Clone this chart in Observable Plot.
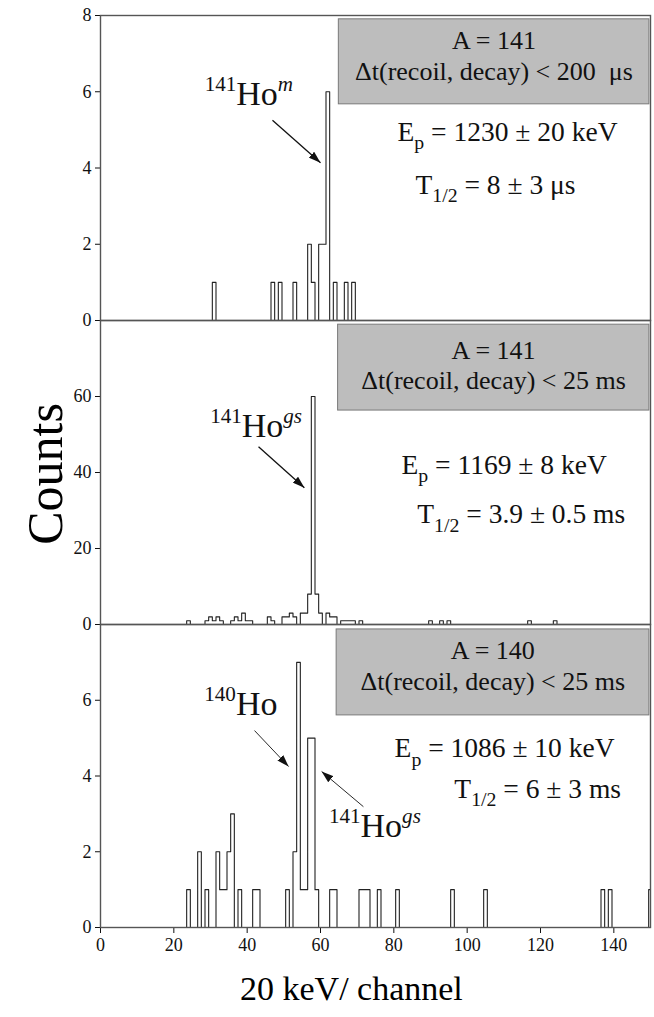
<!DOCTYPE html>
<html><head><meta charset="utf-8">
<script src="https://cdn.jsdelivr.net/npm/d3@7"></script>
<script src="https://cdn.jsdelivr.net/npm/@observablehq/plot@0.6"></script>
<style>
body{margin:0;background:#fff;}
#wrap{position:relative;width:654px;height:1017px;font-family:"Liberation Serif","Times New Roman",serif;overflow:hidden;}
#wrap svg{position:absolute;left:0;}
#wrap svg, #wrap svg text{font-family:"Liberation Serif","Times New Roman",serif !important;}
#ylab{position:absolute;left:45px;top:474px;transform:translate(-50%,-50%) rotate(-90deg);font-size:50px;white-space:nowrap;line-height:1;}
#xlab{position:absolute;left:240px;top:972px;font-size:34px;white-space:nowrap;line-height:1;}
</style></head><body><div id="wrap"><div id="ylab">Counts</div><div id="xlab">20 keV/ channel</div></div>
<script>
// ---- data (channel = 20 keV bin, counts per bin) ----
const channelMax = 150;
const xTicks = [0, 20, 40, 60, 80, 100, 120, 140];

// Panel 1: A = 141, dt < 200 us
const p1Channels = [31, 47, 49, 53, 57, 58, 60, 61, 62, 64, 67, 69];
const p1Counts   = [1, 1, 1, 1, 2, 1, 2, 2, 6, 1, 1, 1];
const p1Ticks = [0, 2, 4, 6, 8];

// Panel 2: A = 141, dt < 25 ms
const p2Channels = [24, 29, 30, 31, 32, 33, 36, 37, 38, 39, 40, 41, 46, 47, 50, 51, 52, 53, 55, 56, 57, 58, 59, 60, 62, 63, 64, 66, 67, 68, 69, 71, 90, 93, 95, 117, 124];
const p2Counts   = [1, 1, 2, 1, 2, 1, 1, 2, 1, 3, 1, 1, 2, 1, 2, 2, 3, 2, 3, 3, 8, 60, 8, 3, 3, 2, 2, 1, 1, 1, 1, 1, 1, 1, 1, 1, 1];
const p2Ticks = [0, 20, 40, 60];

// Panel 3: A = 140, dt < 25 ms
const p3Channels = [24, 27, 29, 32, 33, 34, 35, 36, 38, 42, 43, 51, 53, 54, 55, 56, 57, 58, 59, 63, 64, 71, 72, 73, 76, 81, 96, 105, 137, 139, 150];
const p3Counts   = [1, 2, 1, 2, 1, 1, 2, 3, 1, 1, 1, 1, 2, 7, 1, 1, 5, 5, 1, 1, 1, 1, 1, 1, 1, 1, 1, 1, 1, 1, 1];
const p3Ticks = [0, 2, 4, 6];

// Annotation texts (markup: ^{sup} _{sub} ~{italic sup})
const p1Box = ["A = 141", "\u0394t(recoil, decay) < 200\u00a0 \u03bcs"];
const p2Box = ["A = 141", "\u0394t(recoil, decay) < 25 ms"];
const p3Box = ["A = 140", "\u0394t(recoil, decay) < 25 ms"];
const p1Lines = ["E_{p} = 1230 \u00b1 20 keV", "T_{1/2} = 8 \u00b1 3 \u03bcs"];
const p2Lines = ["E_{p} = 1169 \u00b1 8 keV", "T_{1/2} = 3.9 \u00b1 0.5 ms"];
const p3Lines = ["E_{p} = 1086 \u00b1 10 keV", "T_{1/2} = 6 \u00b1 3 ms"];
const p1Labels = ["^{141}Ho~{m}"];
const p2Labels = ["^{141}Ho~{gs}"];
const p3Labels = ["^{140}Ho", "^{141}Ho~{gs}"];

// annotation anchor positions, in data units (channel, counts)
const p1BoxPos = {x1: 65, x2: 149.7, y1: 5.67, y2: 7.9, cx: 107.3, lines: [7.13, 6.32]};
const p2BoxPos = {x1: 64.8, x2: 149.7, y1: 56.3, y2: 78.9, cx: 107.2, lines: [70, 62.1]};
const p3BoxPos = {x1: 64.4, x2: 149.7, y1: 5.6, y2: 7.87, cx: 107, lines: [7.08, 6.28]};
const p1LinePos = [[81, 4.72], [85.9, 3.33]];
const p2LinePos = [[82.1, 39.7], [86.4, 26.6]];
const p3LinePos = [[80.2, 4.49], [96.5, 3.43]];
const p1LabelPos = [[28.4, 5.64]];
const p2LabelPos = [[29.9, 49.3]];
const p3LabelPos = [[28.3, 5.6], [62.3, 2.38]];
const p1Arrows = [[46.9, 5.25, 60, 4.14, 1.3]];
const p2Arrows = [[43.1, 46.8, 55.6, 36, 1.3]];
const p3Arrows = [[42, 5.2, 51.3, 4.25, 0.9], [71.7, 3.19, 60.3, 4.12, 0.9]];

// ---- helpers ----
function steps(channels, counts) {
  const m = new Map(channels.map((c, i) => [c, counts[i]]));
  const pts = [];
  for (let c = 0; c <= channelMax; c++) pts.push({x: c - 0.5, y: m.get(c) ?? 0});
  pts.push({x: channelMax + 0.5, y: m.get(channelMax) ?? 0});
  return pts;
}

const NS = "http://www.w3.org/2000/svg";
function richify(svg) {
  svg.querySelectorAll("text").forEach(el => {
    const t = el.textContent;
    if (!/[_^~]\{/.test(t)) return;
    const g = el.closest("g[font-size]");
    const fs = parseFloat(el.getAttribute("font-size") || (g && g.getAttribute("font-size")) || 16);
    const parts = [];
    const re = /([_^~])\{([^}]*)\}/g;
    let last = 0, m;
    while ((m = re.exec(t))) {
      if (m.index > last) parts.push({s: t.slice(last, m.index), mode: ""});
      parts.push({s: m[2], mode: m[1]});
      last = re.lastIndex;
    }
    if (last < t.length) parts.push({s: t.slice(last), mode: ""});
    while (el.firstChild) el.removeChild(el.firstChild);
    let shift = 0;
    for (const p of parts) {
      const ts = document.createElementNS(NS, "tspan");
      ts.textContent = p.s;
      let target = 0;
      if (p.mode === "^" || p.mode === "~") { ts.setAttribute("font-size", fs * 0.62); target = -fs * 0.42; }
      if (p.mode === "_") { ts.setAttribute("font-size", fs * 0.72); target = fs * 0.3; }
      if (p.mode === "~") ts.setAttribute("font-style", "italic");
      if (target !== shift) { ts.setAttribute("dy", target - shift); shift = target; }
      el.appendChild(ts);
    }
  });
  const defs = document.createElementNS(NS, "defs");
  defs.innerHTML = '<marker id="ah' + svg.__id + '" viewBox="0 0 12 8" refX="12" refY="4" markerWidth="12" markerHeight="8" markerUnits="userSpaceOnUse" orient="auto"><path d="M0,0L12,4L0,8z" fill="#111"/></marker>';
  svg.insertBefore(defs, svg.firstChild);
  svg.querySelectorAll("g.annarrow path, g.annarrow line").forEach(p => p.setAttribute("marker-end", "url(#ah" + svg.__id + ")"));
}

const FONT = '"Liberation Serif", serif';
function panel(id, o) {
  const series = steps(o.channels, o.counts);
  const boxText = o.box.map((s, i) => ({s, x: o.boxPos.cx, y: o.boxPos.lines[i]}));
  const lineText = o.lines.map((s, i) => ({s, x: o.linePos[i][0], y: o.linePos[i][1]}));
  const labelText = o.labels.map((s, i) => ({s, x: o.labelPos[i][0], y: o.labelPos[i][1]}));
  const arrows = o.arrows.map(a => ({x1: a[0], y1: a[1], x2: a[2], y2: a[3], w: a[4]}));
  const chart = Plot.plot({
    width: 654,
    height: o.height,
    marginLeft: 100,
    marginRight: 4,
    marginTop: o.mt,
    marginBottom: o.mb,
    style: {fontFamily: FONT, fontSize: "18px", color: "#111", background: "transparent", overflow: "visible"},
    x: {domain: [0, channelMax], ticks: o.showX ? xTicks : [], tickSize: o.showX ? 6 : 0, tickPadding: 5, label: null, axis: o.showX ? "bottom" : null},
    y: {domain: o.yDomain, ticks: o.yTicks, tickSize: 5, tickPadding: 4, label: null},
    marks: [
      Plot.rect([o.boxPos], {x1: "x1", x2: "x2", y1: "y1", y2: "y2", fill: "#bdbdbd", stroke: "#7a7a7a", strokeWidth: 1}),
      Plot.line(series, {x: "x", y: "y", curve: "step-after", stroke: "#222", strokeWidth: 1.1, clip: true}),
      Plot.frame({stroke: "#555", strokeWidth: 1.4}),
      Plot.text(boxText, {x: "x", y: "y", text: "s", fontSize: 26, fontFamily: FONT, lineAnchor: "bottom", textAnchor: "middle", fill: "#111"}),
      Plot.text(lineText, {x: "x", y: "y", text: "s", fontSize: 27.5, fontFamily: FONT, lineAnchor: "bottom", textAnchor: "start", fill: "#111"}),
      Plot.text(labelText, {x: "x", y: "y", text: "s", fontSize: 34, fontFamily: FONT, lineAnchor: "bottom", textAnchor: "start", fill: "#111"}),
      Plot.link(arrows, {x1: "x1", y1: "y1", x2: "x2", y2: "y2", stroke: "#111", strokeWidth: "w", className: "annarrow"})
    ]
  });
  chart.__id = id;
  chart.style.top = o.top + "px";
  document.getElementById("wrap").appendChild(chart);
  richify(chart);
}

panel(1, {top: 0, height: 321, mt: 15, mb: 1, yDomain: [0, 8], yTicks: p1Ticks, channels: p1Channels, counts: p1Counts,
  box: p1Box, boxPos: p1BoxPos, lines: p1Lines, linePos: p1LinePos, labels: p1Labels, labelPos: p1LabelPos, arrows: p1Arrows, showX: false});
panel(2, {top: 320, height: 305, mt: 0, mb: 1, yDomain: [0, 80], yTicks: p2Ticks, channels: p2Channels, counts: p2Counts,
  box: p2Box, boxPos: p2BoxPos, lines: p2Lines, linePos: p2LinePos, labels: p2Labels, labelPos: p2LabelPos, arrows: p2Arrows, showX: false});
panel(3, {top: 624, height: 393, mt: 0, mb: 90, yDomain: [0, 8], yTicks: p3Ticks, channels: p3Channels, counts: p3Counts,
  box: p3Box, boxPos: p3BoxPos, lines: p3Lines, linePos: p3LinePos, labels: p3Labels, labelPos: p3LabelPos, arrows: p3Arrows, showX: true});
</script></body></html>
